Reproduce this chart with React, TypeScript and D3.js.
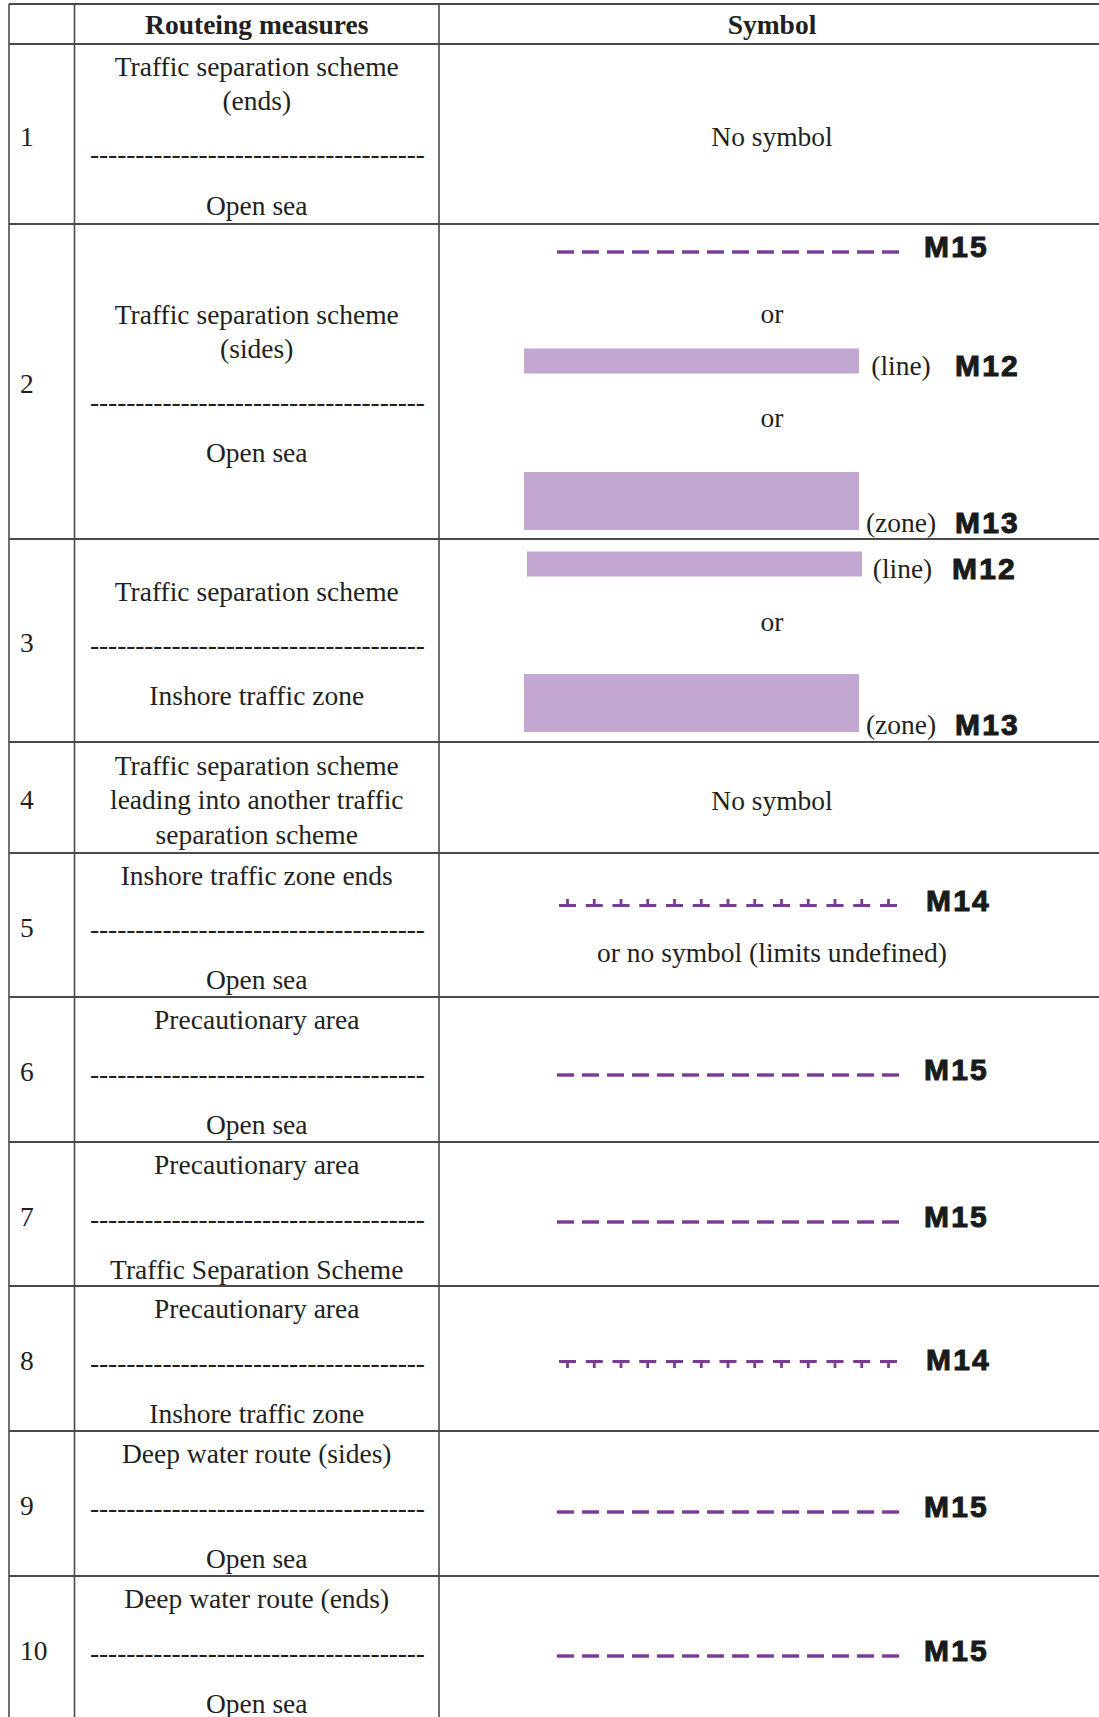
import React from 'react';
import * as d3 from 'd3';

// ---------- data ----------
const headers = ['', 'Routeing measures', 'Symbol'];
const rowNumbers = ['1', '2', '3', '4', '5', '6', '7', '8', '9', '10'];
const SEP = '---';
const measureLines: string[][] = [
  ['Traffic separation scheme', '(ends)', SEP, 'Open sea'],
  ['Traffic separation scheme', '(sides)', SEP, 'Open sea'],
  ['Traffic separation scheme', SEP, 'Inshore traffic zone'],
  ['Traffic separation scheme', 'leading into another traffic', 'separation scheme'],
  ['Inshore traffic zone ends', SEP, 'Open sea'],
  ['Precautionary area', SEP, 'Open sea'],
  ['Precautionary area', SEP, 'Traffic Separation Scheme'],
  ['Precautionary area', SEP, 'Inshore traffic zone'],
  ['Deep water route (sides)', SEP, 'Open sea'],
  ['Deep water route (ends)', SEP, 'Open sea'],
];
type Sym = { kind: 'text' | 'dash' | 'tickUp' | 'tickDown' | 'line' | 'zone'; text?: string; code?: string };
const symbolItems: Sym[][] = [
  [{ kind: 'text', text: 'No symbol' }],
  [
    { kind: 'dash', code: 'M15' },
    { kind: 'text', text: 'or' },
    { kind: 'line', text: '(line)', code: 'M12' },
    { kind: 'text', text: 'or' },
    { kind: 'zone', text: '(zone)', code: 'M13' },
  ],
  [
    { kind: 'line', text: '(line)', code: 'M12' },
    { kind: 'text', text: 'or' },
    { kind: 'zone', text: '(zone)', code: 'M13' },
  ],
  [{ kind: 'text', text: 'No symbol' }],
  [
    { kind: 'tickUp', code: 'M14' },
    { kind: 'text', text: 'or no symbol (limits undefined)' },
  ],
  [{ kind: 'dash', code: 'M15' }],
  [{ kind: 'dash', code: 'M15' }],
  [{ kind: 'tickDown', code: 'M14' }],
  [{ kind: 'dash', code: 'M15' }],
  [{ kind: 'dash', code: 'M15' }],
];

// ---------- layout ----------
const W = 1099;
const H = 1717;
const rowBounds = [4, 44, 224, 539, 742, 853, 997, 1142, 1286, 1431, 1576, 1780];
const colBounds = [9, 74.5, 439, 1105];
const measureOffsets: number[][] = [
  [22, 56, 109, 161],
  [90, 124, 177, 228],
  [52, 105, 156],
  [23, 57, 92],
  [22, 75, 126],
  [22, 76, 127],
  [22, 76, 127],
  [22, 76, 127],
  [22, 76, 127],
  [22, 76, 127],
];
const symbolOffsets: number[][] = [
  [92],
  [28, 89, 137, 193, 277],
  [25, 82, 164],
  [58],
  [51, 99],
  [78],
  [80],
  [77],
  [81],
  [80],
];
// small horizontal shift of the line rectangle per row (row 2, row 3)
const lineRectShift: Record<number, number> = { 1: 0, 2: 3 };

const serif = '"Liberation Serif", "Times New Roman", serif';
const sans = '"Liberation Sans", Arial, sans-serif';
const FS = 27.5;
const TXT = '#231f20';
const PURPLE = '#7b3a96';
const LILAC = '#c2a8d0';
const LINE = '#4a4a4a';

const SYM_X0 = 557;
const SYM_X1 = 899;
const CODE_X = 924;
const RECT_X0 = 524;
const RECT_X1 = 859;
const RECT_LABEL_X = 901;
const RECT_CODE_X = 955;

function Code({ x, y, code }: { x: number; y: number; code: string }) {
  return (
    <text
      x={x}
      y={y}
      fontFamily={sans}
      fontWeight={700}
      fontSize={30}
      letterSpacing={2.2}
      fill="#1a1a1a"
      stroke="#1a1a1a"
      strokeWidth={1}
      dominantBaseline="central"
    >
      {code}
    </text>
  );
}

function SymbolItem({ item, y, shift }: { item: Sym; y: number; shift: number }) {
  const cx = (colBounds[2] + colBounds[3]) / 2;
  if (item.kind === 'text') {
    return (
      <text x={cx} y={y} textAnchor="middle" dominantBaseline="central" fontFamily={serif} fontSize={FS} fill={TXT}>
        {item.text}
      </text>
    );
  }
  if (item.kind === 'dash') {
    const n = 14;
    const dashLen = 17;
    const xs = d3.scaleLinear().domain([0, n - 1]).range([SYM_X0, SYM_X1 - dashLen]);
    return (
      <g>
        {d3.range(n).map((i) => (
          <rect key={i} x={xs(i)} y={y - 1.7} width={dashLen} height={3.4} fill={PURPLE} />
        ))}
        <Code x={CODE_X} y={y - 6} code={item.code!} />
      </g>
    );
  }
  if (item.kind === 'tickUp' || item.kind === 'tickDown') {
    const n = 13;
    const barLen = 17;
    const xs = d3.scaleLinear().domain([0, n - 1]).range([SYM_X0 + 2, SYM_X1 - barLen - 2]);
    const up = item.kind === 'tickUp';
    return (
      <g>
        {d3.range(n).map((i) => (
          <g key={i}>
            <rect x={xs(i)} y={up ? y : y - 3} width={barLen} height={3} fill={PURPLE} />
            <rect x={xs(i) + barLen / 2 - 1.4} y={up ? y - 5 : y - 1} width={2.8} height={6} fill={PURPLE} />
          </g>
        ))}
        <Code x={CODE_X + 2} y={y - 4} code={item.code!} />
      </g>
    );
  }
  const isLine = item.kind === 'line';
  const h = isLine ? 25 : 58;
  const top = y - h / 2;
  const dx = isLine ? shift : 0;
  const labelY = isLine ? y + 4 : top + h - 8;
  return (
    <g>
      <rect x={RECT_X0 + dx} y={top} width={RECT_X1 - RECT_X0} height={h} fill={LILAC} />
      <text x={RECT_LABEL_X + (isLine ? dx / 2 : 0)} y={labelY} textAnchor="middle" dominantBaseline="central" fontFamily={serif} fontSize={FS} fill={TXT}>
        {item.text}
      </text>
      <Code x={RECT_CODE_X + (isLine ? -dx : 0)} y={labelY} code={item.code!} />
    </g>
  );
}

export default function App() {
  const col2c = (colBounds[1] + colBounds[2]) / 2;
  const col3c = (colBounds[2] + colBounds[3]) / 2;
  const headerY = (rowBounds[0] + rowBounds[1]) / 2;
  return (
    <svg
      width={W}
      height={H}
      viewBox={`0 0 ${W} ${H}`}
      style={{ position: 'absolute', left: 0, top: 0, background: '#fff' }}
    >
      <rect x={0} y={0} width={W} height={H} fill="#fff" />
      <text x={col2c} y={headerY} textAnchor="middle" dominantBaseline="central" fontFamily={serif} fontWeight={700} fontSize={FS} fill={TXT}>
        {headers[1]}
      </text>
      <text x={col3c} y={headerY} textAnchor="middle" dominantBaseline="central" fontFamily={serif} fontWeight={700} fontSize={FS} fill={TXT}>
        {headers[2]}
      </text>
      {rowNumbers.map((num, r) => {
        const top = rowBounds[r + 1];
        const bottom = rowBounds[r + 2];
        const mid = (top + Math.min(bottom, 1724)) / 2;
        return (
          <g key={num}>
            <text x={colBounds[0] + 11} y={r === 9 ? 1650 : mid + 2} dominantBaseline="central" fontFamily={serif} fontSize={FS} fill={TXT}>
              {num}
            </text>
            {measureLines[r].map((line, i) => {
              const y = top + measureOffsets[r][i];
              if (line === SEP) {
                return (
                  <text
                    key={i}
                    x={90}
                    y={y}
                    dominantBaseline="central"
                    fontFamily={serif}
                    fontSize={FS}
                    fill={TXT}
                    textLength={335}
                    lengthAdjust="spacing"
                  >
                    {'-'.repeat(37)}
                  </text>
                );
              }
              return (
                <text key={i} x={col2c} y={y} textAnchor="middle" dominantBaseline="central" fontFamily={serif} fontSize={FS} fill={TXT}>
                  {line}
                </text>
              );
            })}
            {symbolItems[r].map((item, i) => (
              <SymbolItem key={i} item={item} y={top + symbolOffsets[r][i]} shift={lineRectShift[r] ?? 0} />
            ))}
          </g>
        );
      })}
      {rowBounds.slice(0, -1).map((y, i) => (
        <line key={'h' + i} x1={colBounds[0]} x2={W} y1={y} y2={y} stroke={LINE} strokeWidth={1.8} />
      ))}
      {colBounds.slice(0, 3).map((x, i) => (
        <line key={'v' + i} x1={x} x2={x} y1={rowBounds[0]} y2={H} stroke={LINE} strokeWidth={1.6} />
      ))}
    </svg>
  );
}
